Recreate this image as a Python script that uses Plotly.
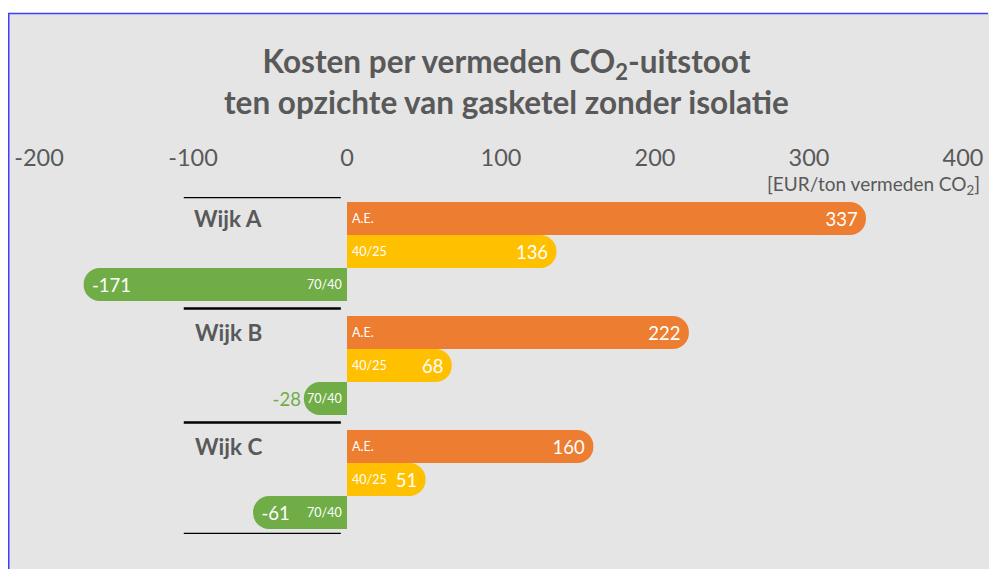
import plotly.graph_objects as go

# ---- data ----
groups = ["Wijk A", "Wijk B", "Wijk C"]
series = ["A.E.", "40/25", "70/40"]
values = {
    "A.E.": [337, 222, 160],
    "40/25": [136, 68, 51],
    "70/40": [-171, -28, -61],
}
colors = {"A.E.": "#ED7D31", "40/25": "#FFC000", "70/40": "#70AD47"}
x_ticks = [-200, -100, 0, 100, 200, 300, 400]

# ---- layout constants (figure fills the page; body margin removed) ----
W, H = 989, 569
ML, MR, MT, MB = 39, 26, 197, 35
PW = W - ML - MR
PH = H - MT - MB
ROW_PX = 33.0
GAP_ROWS = 15.0 / ROW_PX
GROUP_STEP = len(series) + GAP_ROWS
PAD_ROWS = 5.0 / ROW_PX
y_top = -0.5 - PAD_ROWS
y_bot = (len(groups) - 1) * GROUP_STEP + len(series) - 0.5 + PAD_ROWS

FONT = "Lato"
GRAY = "#595959"


def fx(px):
    """figure pixel x -> paper x"""
    return (px - ML) / PW


def fy(py):
    """figure pixel y -> paper y"""
    return (H - MB - py) / PH


fig = go.Figure()
for s_i, s in enumerate(series):
    ys = [g_i * GROUP_STEP + s_i for g_i in range(len(groups))]
    vals = values[s]
    positions, tcolors = [], []
    for v in vals:
        px_len = abs(v) * PW / 600
        if px_len < 70 and v < 0:
            positions.append("outside")
            tcolors.append(colors[s])
        else:
            positions.append("inside")
            tcolors.append("white")
    fig.add_trace(go.Bar(
        x=vals, y=ys, orientation="h", width=1.0,
        marker=dict(color=colors[s], line=dict(width=0), cornerradius="50%"),
        text=[str(v) for v in vals], textposition=positions,
        insidetextanchor="end",
        textfont=dict(family=FONT, size=18.5, color=tcolors),
        constraintext="none",
        cliponaxis=False,
        showlegend=False, hoverinfo="skip",
    ))
    # series name labels at the base of each bar
    for y, v in zip(ys, vals):
        fig.add_annotation(
            x=0, y=y, xref="x", yref="y", text=s, showarrow=False,
            xanchor="left" if v >= 0 else "right",
            xshift=3 if v >= 0 else -3,
            font=dict(family=FONT, size=12.5, color="white"),
        )

# group labels
for g_i, g in enumerate(groups):
    fig.add_annotation(
        x=-77, y=g_i * GROUP_STEP, xref="x", yref="y", text=f"<b>{g}</b>",
        showarrow=False, xanchor="center", yanchor="middle",
        font=dict(family=FONT, size=22.5, color=GRAY),
    )

# separator lines
seps = [y_top]
for g_i in range(len(groups) - 1):
    seps.append(g_i * GROUP_STEP + len(series) - 0.5 + GAP_ROWS / 2)
seps.append(y_bot)
for sy in seps:
    fig.add_shape(type="line", xref="x", yref="y", x0=-106, x1=-4, y0=sy, y1=sy,
                  line=dict(color="black", width=2.5))

# background frame (grey panel with blue top/left border)
fig.add_shape(type="rect", xref="paper", yref="paper", layer="below",
              x0=fx(8), x1=fx(W), y0=fy(13), y1=fy(H),
              fillcolor="#E5E5E5", line=dict(width=0))
fig.add_shape(type="line", xref="paper", yref="paper",
              x0=fx(8), x1=fx(W - 1), y0=fy(13.5), y1=fy(13.5),
              line=dict(color="#3F3FFF", width=1.5))
fig.add_shape(type="line", xref="paper", yref="paper",
              x0=fx(8.75), x1=fx(8.75), y0=fy(13), y1=fy(H),
              line=dict(color="#3F3FFF", width=1.5))

# axis unit label
fig.add_annotation(
    x=fx(982), y=fy(185), xref="paper", yref="paper",
    text="[EUR/ton vermeden CO<sub>2</sub>]", showarrow=False,
    xanchor="right", yanchor="middle",
    font=dict(family=FONT, size=19, color=GRAY),
)

# title
fig.add_annotation(
    x=fx(506), y=fy(81.5), xref="paper", yref="paper",
    text="<b>Kosten per vermeden CO<sub>2</sub>-uitstoot<br>ten opzichte van gasketel zonder isolatie</b>",
    showarrow=False, xanchor="center", yanchor="middle", align="center",
    font=dict(family=FONT, size=31.5, color=GRAY),
)

fig.update_layout(
    width=W, height=H,
    margin=dict(l=ML, r=MR, t=MT, b=MB, autoexpand=False),
    paper_bgcolor="white", plot_bgcolor="rgba(0,0,0,0)",
    barmode="overlay",
    xaxis=dict(
        range=[-200, 400], side="top", tickvals=x_ticks,
        ticktext=[str(t) for t in x_ticks],
        showgrid=False, zeroline=False, showline=False, ticks="",
        tickfont=dict(family=FONT, size=23.5, color=GRAY),
        ticklabelstandoff=25, automargin=False,
    ),
    yaxis=dict(range=[y_bot, y_top], showticklabels=False, showgrid=False,
               zeroline=False, showline=False, ticks="", automargin=False),
)

fig.write_html(
    "out.html",
    config={"displayModeBar": False},
    post_script="document.body.style.margin='0';document.documentElement.style.overflow='hidden';",
)
